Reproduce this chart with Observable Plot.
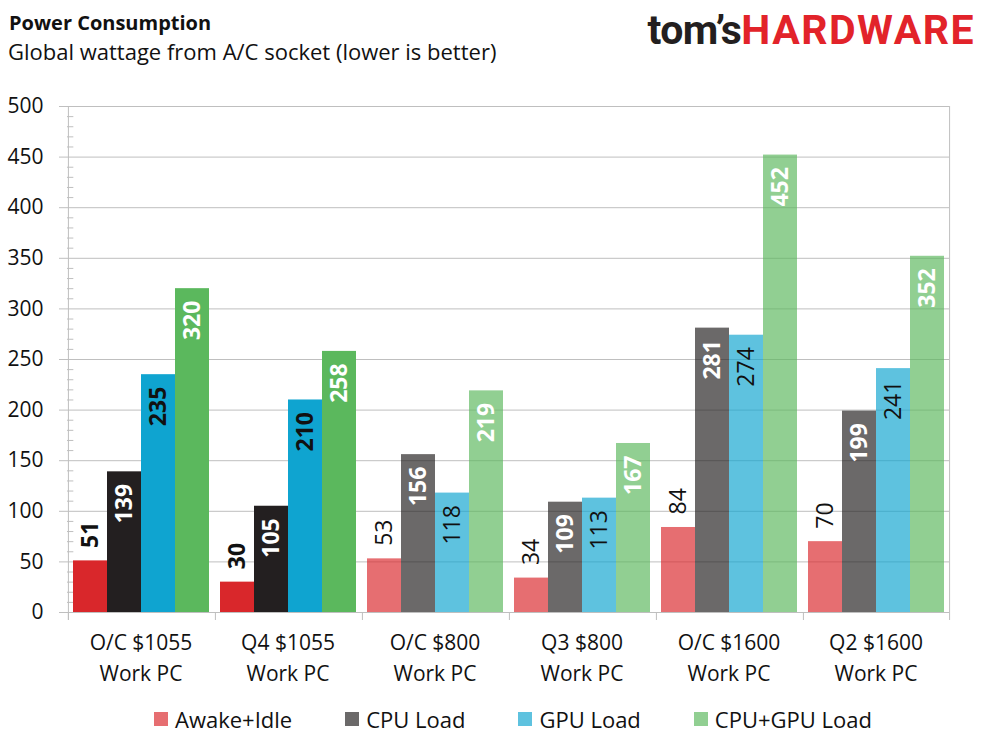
<!DOCTYPE html>
<html>
<head>
<meta charset="utf-8">
<script src="https://cdn.jsdelivr.net/npm/d3@7"></script>
<script src="https://cdn.jsdelivr.net/npm/@observablehq/plot@0.6"></script>
<style>
  html, body { margin: 0; padding: 0; background: #fff; }
  #wrap { position: relative; width: 989px; height: 742px; overflow: hidden; font-family: "Open Sans", sans-serif; color: #111; }
  #title { position: absolute; left: 9px; top: 9px; font-size: 20px; font-weight: 700; line-height: 28px; }
  #subtitle { position: absolute; left: 8px; top: 36px; font-size: 22px; line-height: 30px; }
  #logo { position: absolute; right: 14px; top: 4px; font-family: Roboto, sans-serif; font-weight: 700; font-size: 41px; line-height: 52px; white-space: nowrap; }
  #logo .t { color: #231f20; letter-spacing: -0.5px; }
  #logo .h { color: #e2232a; letter-spacing: 1.5px; }
  #chart { position: absolute; left: 0; top: 80px; }
  #legend { position: absolute; left: 154px; top: 704px; display: flex; gap: 53px; font-size: 22px; line-height: 30px; }
  #legend .item { display: flex; align-items: center; gap: 7px; white-space: nowrap; }
  #legend .sw { width: 14px; height: 14px; display: inline-block; }
</style>
</head>
<body>
<div id="wrap">
  <div id="title">Power Consumption</div>
  <div id="subtitle">Global wattage from A/C socket (lower is better)</div>
  <div id="logo"><span class="t">tom’s</span><span class="h">HARDWARE</span></div>
  <div id="chart"></div>
  <div id="legend"></div>
</div>
<script>
// ---- data ----
const groups = [
  "O/C $1055\nWork PC",
  "Q4 $1055\nWork PC",
  "O/C $800\nWork PC",
  "Q3 $800\nWork PC",
  "O/C $1600\nWork PC",
  "Q2 $1600\nWork PC"
];
const series = ["Awake+Idle", "CPU Load", "GPU Load", "CPU+GPU Load"];
const awakeIdle = [51, 30, 53, 34, 84, 70];
const cpuLoad = [139, 105, 156, 109, 281, 199];
const gpuLoad = [235, 210, 118, 113, 274, 241];
const cpuGpuLoad = [320, 258, 219, 167, 452, 352];
const yTicks = [0, 50, 100, 150, 200, 250, 300, 350, 400, 450, 500];
const highlightedGroups = ["O/C $1055\nWork PC", "Q4 $1055\nWork PC"];

// ---- styles ----
const seriesColors = ["#d9272b", "#231f20", "#0fa4d0", "#5bb85d"];
const labelColors = ["#111", "#fff", "#111", "#fff"];
const lightOpacity = 0.67;
const gridColor = "#bfbfbf";

const valuesBySeries = [awakeIdle, cpuLoad, gpuLoad, cpuGpuLoad];
const rows = [];
groups.forEach((g, gi) => {
  series.forEach((s, si) => {
    rows.push({group: g, series: s, value: valuesBySeries[si][gi], hl: highlightedGroups.includes(g)});
  });
});

const W = 989, H = 600;
const mL = 65, mR = 38, mT = 26, mB = 68;
const bw = (W - mL - mR) / groups.length;   // facet width
const padOuter = 0.14;
const step = bw / (series.length + 2 * padOuter);  // bar band width
const edgeOffset = step / 2 + padOuter * step;      // from first/last bar centre to facet edge
const plotH = H - mT - mB;

const minorTicks = d3.range(10, 500, 10).filter(v => v % 50 !== 0);

function labels(filterFn, opts) {
  return Plot.text(rows.filter(filterFn), {
    fx: "group", x: "series", y: "value", text: d => String(d.value),
    rotate: -90, fontSize: 23, ...opts
  });
}

const chart = Plot.plot({
  width: W, height: H,
  marginLeft: mL, marginRight: mR, marginTop: mT, marginBottom: mB,
  style: {fontFamily: "'Open Sans', sans-serif", color: "#111", background: "transparent", overflow: "visible"},
  fx: {domain: groups, padding: 0, label: null},
  x: {domain: series, paddingInner: 0, paddingOuter: padOuter, axis: null},
  y: {domain: [0, 500], label: null},
  marks: [
    Plot.gridY({ticks: yTicks, stroke: gridColor, strokeOpacity: 1}),
    Plot.axisY({ticks: yTicks, tickSize: 8, tickPadding: 16, stroke: gridColor, strokeOpacity: 1, fill: "#111", fontSize: 21, label: null}),
    Plot.ruleY(minorTicks.map(v => ({v, group: groups[0]})), {fx: "group", y: "v", stroke: gridColor, insetRight: bw - 7}),
    // left axis line
    Plot.ruleX([{group: groups[0], s: series[0]}], {fx: "group", x: "s", dx: -edgeOffset, stroke: gridColor, insetBottom: -8}),
    // category boundary ticks
    Plot.ruleX(groups.map(g => ({group: g, s: series[0]})), {fx: "group", x: "s", dx: -edgeOffset, stroke: gridColor, insetTop: plotH, insetBottom: -8}),
    // right border
    Plot.ruleX([{group: groups[groups.length - 1], s: series[series.length - 1]}], {fx: "group", x: "s", dx: edgeOffset, stroke: gridColor, insetBottom: -8}),
    Plot.barY(rows.filter(d => d.hl), {fx: "group", x: "series", y: "value", fill: d => seriesColors[series.indexOf(d.series)]}),
    Plot.barY(rows.filter(d => !d.hl), {fx: "group", x: "series", y: "value", fill: d => seriesColors[series.indexOf(d.series)], fillOpacity: lightOpacity}),
    // labels above the idle bars
    labels(d => d.series === series[0] && d.hl, {textAnchor: "start", dy: -13, fill: labelColors[0], fontWeight: 700}),
    labels(d => d.series === series[0] && !d.hl, {textAnchor: "start", dy: -13, fill: labelColors[0], fontWeight: 400}),
    // labels inside the other bars
    labels(d => d.series !== series[0] && labelColors[series.indexOf(d.series)] === "#fff", {textAnchor: "end", dy: 12, fill: "#fff", fontWeight: 700}),
    labels(d => d.series !== series[0] && labelColors[series.indexOf(d.series)] !== "#fff" && d.hl, {textAnchor: "end", dy: 12, fill: "#111", fontWeight: 700}),
    labels(d => d.series !== series[0] && labelColors[series.indexOf(d.series)] !== "#fff" && !d.hl, {textAnchor: "end", dy: 12, fill: "#111", fontWeight: 400}),
    Plot.axisFx({anchor: "bottom", tickSize: 0, tickPadding: 15, fontSize: 21, lineHeight: 1.48, label: null, fill: "#111"})
  ]
});
document.getElementById("chart").appendChild(chart);

// ---- legend ----
const legend = document.getElementById("legend");
series.forEach((s, i) => {
  const item = document.createElement("div");
  item.className = "item";
  const sw = document.createElement("span");
  sw.className = "sw";
  sw.style.background = seriesColors[i];
  sw.style.opacity = lightOpacity;
  const tx = document.createElement("span");
  tx.textContent = s;
  item.appendChild(sw);
  item.appendChild(tx);
  legend.appendChild(item);
});
</script>
</body>
</html>
